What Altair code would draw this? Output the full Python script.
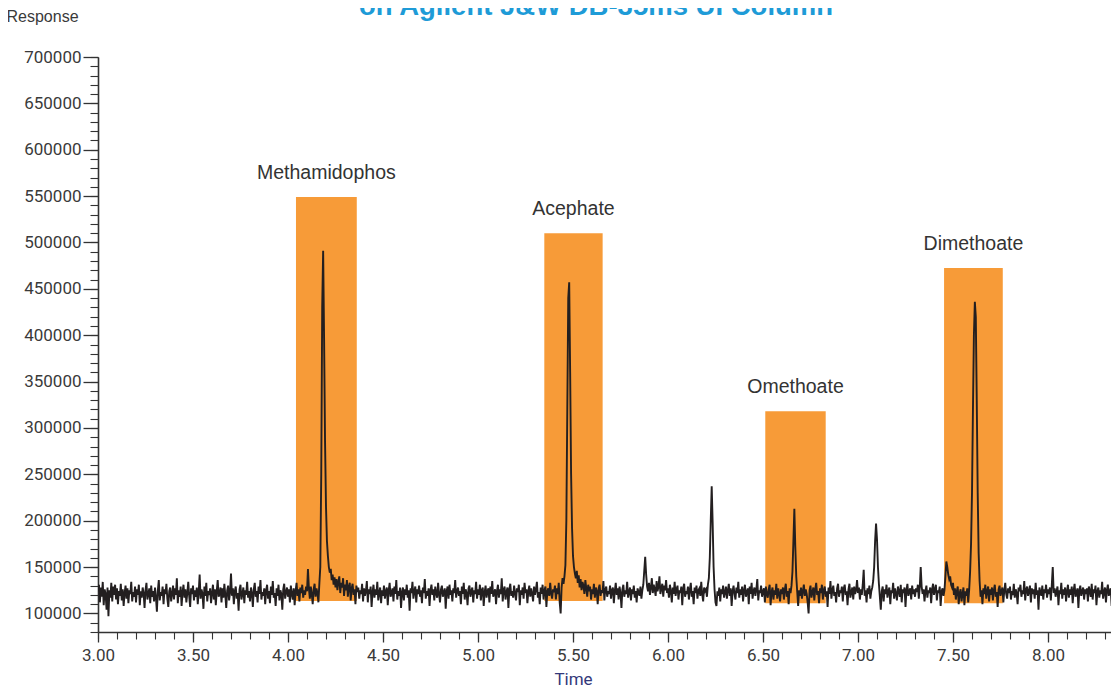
import altair as alt
import numpy as np
import pandas as pd

# ---- chromatogram trace: response (x1000) sampled every 0.005 min, rows of 0.1 min starting at 3.00 ----
response_k_rows = [
    [124, 131, 112, 128, 118, 134, 109, 126, 121, 104, 128, 97, 125, 117, 133, 113, 129, 120, 131, 115],   # 3.0
    [127, 110, 124, 119, 132, 114, 126, 108, 122, 130, 116, 127, 111, 125, 121, 134, 113, 123, 118, 129],  # 3.1
    [112, 126, 120, 131, 109, 124, 117, 128, 122, 106, 125, 133, 115, 121, 127, 111, 130, 118, 124, 113],  # 3.2
    [128, 117, 102, 125, 136, 114, 123, 119, 129, 110, 126, 121, 132, 116, 107, 124, 128, 113, 121, 130],  # 3.3
    [115, 127, 120, 138, 111, 125, 118, 129, 108, 123, 131, 117, 126, 112, 122, 134, 119, 107, 127, 121],  # 3.4
    [130, 114, 125, 118, 128, 110, 123, 142, 116, 126, 121, 105, 129, 119, 133, 113, 124, 120, 127, 111],  # 3.5
    [122, 131, 115, 126, 109, 124, 136, 118, 121, 128, 112, 127, 117, 132, 120, 106, 125, 130, 114, 123],  # 3.6
    [143, 119, 127, 110, 124, 129, 116, 122, 103, 126, 131, 115, 121, 128, 111, 125, 120, 134, 117, 124],  # 3.7
    [113, 128, 122, 107, 126, 133, 118, 124, 112, 129, 121, 136, 115, 123, 119, 127, 110, 125, 131, 116],  # 3.8
    [124, 111, 129, 120, 135, 117, 122, 108, 127, 119, 131, 114, 125, 121, 104, 126, 132, 116, 123, 128],  # 3.9
    [118, 126, 112, 130, 121, 115, 127, 109, 124, 133, 119, 126, 113, 128, 122, 131, 117, 125, 120, 129],  # 4.0
    [124, 148, 127, 116, 129, 121, 110, 126, 132, 118, 127, 122, 112, 132, 150, 250, 430, 491, 395, 285],  # 4.1
    [215, 178, 162, 150, 144, 148, 136, 142, 131, 139, 128, 137, 125, 134, 140, 122, 133, 128, 138, 119],  # 4.2
    [131, 125, 136, 118, 129, 133, 114, 127, 132, 120, 126, 110, 130, 123, 128, 116, 125, 121, 132, 113],  # 4.3
    [127, 119, 124, 135, 112, 126, 121, 129, 107, 123, 131, 117, 126, 120, 134, 114, 122, 128, 111, 125],  # 4.4
    [119, 130, 116, 124, 128, 109, 125, 133, 118, 122, 127, 113, 129, 121, 136, 115, 124, 119, 128, 106],  # 4.5
    [123, 128, 114, 126, 120, 131, 117, 125, 103, 127, 122, 134, 116, 124, 129, 112, 126, 121, 130, 118],  # 4.6
    [125, 111, 128, 122, 137, 116, 124, 119, 127, 108, 125, 131, 120, 126, 114, 129, 122, 117, 133, 121],  # 4.7
    [112, 126, 130, 118, 123, 127, 105, 124, 129, 116, 131, 120, 125, 113, 127, 122, 136, 117, 124, 128],  # 4.8
    [119, 124, 110, 129, 121, 133, 115, 126, 122, 109, 127, 130, 118, 124, 128, 112, 125, 121, 134, 116],  # 4.9
    [126, 120, 131, 114, 125, 128, 108, 123, 130, 117, 124, 127, 112, 129, 121, 135, 118, 122, 126, 110],  # 5.0
    [124, 131, 117, 126, 121, 138, 113, 125, 129, 115, 123, 128, 106, 126, 132, 119, 124, 117, 130, 122],  # 5.1
    [114, 127, 123, 131, 109, 125, 120, 128, 116, 133, 122, 126, 111, 124, 130, 118, 127, 121, 113, 129],  # 5.2
    [120, 126, 134, 117, 123, 110, 128, 121, 131, 115, 125, 129, 107, 124, 127, 119, 133, 122, 116, 126],  # 5.3
    [123, 130, 115, 127, 121, 133, 112, 100, 128, 138, 132, 140, 152, 200, 320, 440, 457, 360, 250, 192],  # 5.4
    [162, 150, 143, 138, 146, 133, 141, 128, 137, 125, 134, 130, 121, 136, 127, 118, 131, 124, 129, 115],  # 5.5
    [126, 121, 132, 117, 128, 124, 110, 127, 131, 119, 125, 122, 135, 114, 126, 129, 118, 124, 121, 130],  # 5.6
    [116, 125, 128, 111, 124, 133, 120, 127, 115, 129, 122, 106, 126, 131, 118, 125, 121, 134, 117, 123],  # 5.7
    [128, 114, 126, 121, 130, 117, 124, 112, 127, 123, 119, 129, 116, 125, 131, 146, 161, 142, 129, 124],  # 5.8
    [133, 120, 128, 138, 122, 131, 126, 119, 135, 124, 129, 140, 121, 127, 132, 118, 130, 125, 136, 122],  # 5.9
    [127, 117, 131, 124, 112, 128, 121, 134, 119, 126, 130, 115, 125, 122, 129, 109, 127, 132, 118, 124],  # 6.0
    [121, 129, 115, 126, 133, 118, 124, 110, 128, 122, 130, 116, 125, 127, 119, 134, 121, 113, 128, 124],  # 6.1
    [126, 118, 131, 138, 160, 200, 237, 198, 150, 126, 112, 108, 124, 119, 128, 113, 126, 121, 130, 117],  # 6.2
    [123, 129, 116, 125, 132, 119, 127, 108, 124, 130, 121, 115, 128, 122, 134, 117, 126, 120, 129, 113],  # 6.3
    [125, 131, 118, 123, 127, 110, 129, 121, 133, 116, 124, 128, 119, 126, 137, 114, 125, 122, 130, 118],  # 6.4
    [124, 127, 112, 129, 121, 117, 126, 131, 109, 123, 128, 115, 125, 120, 132, 116, 127, 122, 113, 126],  # 6.5
    [121, 128, 115, 126, 132, 118, 124, 110, 127, 122, 130, 145, 178, 213, 172, 140, 124, 108, 125, 119],  # 6.6
    [128, 116, 124, 131, 119, 126, 121, 112, 100, 125, 130, 117, 123, 128, 114, 126, 133, 120, 124, 111],  # 6.7
    [127, 122, 131, 115, 125, 129, 118, 124, 107, 128, 121, 135, 116, 125, 130, 119, 123, 112, 127, 132],  # 6.8
    [118, 125, 122, 129, 113, 127, 131, 120, 124, 109, 126, 132, 117, 123, 128, 115, 129, 121, 125, 136],  # 6.9
    [122, 128, 115, 126, 120, 131, 147, 119, 125, 112, 127, 121, 130, 116, 124, 128, 135, 150, 178, 197],  # 7.0
    [180, 150, 132, 118, 104, 124, 129, 113, 126, 121, 131, 117, 124, 128, 110, 125, 122, 133, 116, 127],  # 7.1
    [121, 114, 129, 124, 118, 131, 112, 126, 122, 128, 107, 125, 132, 119, 124, 127, 115, 130, 121, 126],  # 7.2
    [118, 127, 123, 131, 116, 128, 150, 129, 121, 126, 113, 124, 130, 117, 125, 122, 128, 111, 126, 132],  # 7.3
    [120, 126, 131, 114, 125, 122, 129, 108, 124, 127, 119, 125, 140, 156, 150, 142, 137, 140, 131, 128],  # 7.4
    [133, 120, 127, 115, 124, 129, 110, 122, 126, 113, 121, 128, 109, 124, 119, 127, 112, 125, 145, 175],  # 7.5
    [230, 320, 400, 436, 420, 330, 230, 165, 135, 118, 125, 110, 127, 121, 131, 116, 124, 129, 113, 126],  # 7.6
    [120, 128, 114, 125, 131, 118, 123, 107, 126, 130, 119, 124, 128, 112, 125, 133, 121, 116, 127, 122],  # 7.7
    [129, 115, 124, 120, 132, 117, 126, 122, 110, 128, 124, 131, 118, 125, 121, 135, 114, 126, 129, 119],  # 7.8
    [124, 130, 112, 127, 121, 126, 116, 133, 120, 125, 104, 128, 123, 119, 130, 115, 126, 122, 131, 117],  # 7.9
    [126, 121, 128, 114, 131, 150, 122, 127, 118, 124, 129, 109, 125, 121, 133, 116, 126, 120, 128, 113],  # 8.0
    [124, 131, 117, 126, 120, 129, 111, 125, 132, 118, 123, 127, 106, 125, 130, 119, 124, 128, 115, 126],  # 8.1
    [121, 127, 113, 129, 124, 118, 132, 115, 126, 122, 130, 109, 124, 128, 117, 125, 121, 134, 116, 123],  # 8.2
    [128, 112, 125, 131, 119, 124, 127, 108, 126, 121, 129, 115, 124, 130, 118, 125],                      # 8.3
]
sample_step_min = 0.005
trace_start_min = 3.0

# ---- integration windows (orange boxes) ----
compounds = ["Methamidophos", "Acephate", "Omethoate", "Dimethoate"]
window_start = [4.042, 5.349, 6.512, 7.453]
window_end = [4.362, 5.656, 6.830, 7.762]
window_top = [549000, 510000, 318000, 472500]
window_bottom = [113300, 113300, 111100, 111100]

# ---- axis ticks ----
x_major = [3.0, 3.5, 4.0, 4.5, 5.0, 5.5, 6.0, 6.5, 7.0, 7.5, 8.0]
x_minor = [round(3.0 + 0.1 * k, 1) for k in range(54)]
y_major = [100000, 150000, 200000, 250000, 300000, 350000, 400000, 450000,
           500000, 550000, 600000, 650000, 700000]
y_minor = [80000 + 10000 * k for k in range(63)]

title_text = "on Agilent J&W DB-35ms UI Column"

# ---- build tables ----
resp = [v * 1000 for row in response_k_rows for v in row]
times = [round(trace_start_min + sample_step_min * i, 3) for i in range(len(resp))]
trace = pd.DataFrame({"time": times, "response": resp})
windows = pd.DataFrame({"compound": compounds, "start": window_start, "end": window_end,
                        "top": window_top, "bottom": window_bottom})

PX_PER_MIN = 190
PLOT_W = 1013
PLOT_H = 575
X_MAX = 3.0 + PLOT_W / PX_PER_MIN

xs = alt.Scale(domain=[3.0, X_MAX], nice=False, zero=False)
ys = alt.Scale(domain=[80000, 700000], nice=False, zero=False)

AX_COLOR = "#333333"
LBL_COLOR = "#3a3a3a"
TICK_FONT = "Roboto"

x_major_axis = alt.Axis(orient="bottom", values=x_major, format=".2f", grid=False,
                        tickSize=10, tickWidth=1.3, tickColor=AX_COLOR,
                        domainColor=AX_COLOR, domainWidth=1.6,
                        labelFont=TICK_FONT, labelFontSize=17, labelColor=LBL_COLOR,
                        labelPadding=5, labelFlush=False,
                        title="Time", titleFont=TICK_FONT, titleFontSize=17,
                        titleFontWeight="normal", titleColor="#33397a",
                        titleX=475, titleY=52, titleAnchor="middle",
                        titleBaseline="alphabetic", titleAlign="center")
x_minor_axis = alt.Axis(orient="bottom", values=x_minor, labels=False, grid=False,
                        domain=False, tickSize=7, tickWidth=1.1, tickColor=AX_COLOR,
                        title="")
y_major_axis = alt.Axis(orient="left", values=y_major, format="d", grid=False,
                        tickSize=15, tickWidth=1.3, tickColor=AX_COLOR,
                        domainColor=AX_COLOR, domainWidth=1.6,
                        labelFont=TICK_FONT, labelFontSize=17, labelColor=LBL_COLOR,
                        labelPadding=2, labelFlush=False,
                        title="Response", titleFont="Liberation Sans", titleFontSize=16,
                        titleFontWeight="normal", titleColor="#3a3a3a", titleAngle=0,
                        titleAlign="left", titleBaseline="alphabetic",
                        titleX=-92, titleY=-36)
y_minor_axis = alt.Axis(orient="left", values=y_minor, labels=False, grid=False,
                        domain=False, tickSize=8, tickWidth=1.1, tickColor=AX_COLOR,
                        title="")

boxes = alt.Chart(windows).mark_rect(color="#F79B38", opacity=1).encode(
    x=alt.X("start:Q", scale=xs, axis=x_major_axis),
    x2="end:Q",
    y=alt.Y("top:Q", scale=ys, axis=y_major_axis),
    y2="bottom:Q",
)

line = alt.Chart(trace).mark_line(color="#231F20", strokeWidth=1.9, clip=True).encode(
    x=alt.X("time:Q", scale=xs, axis=x_minor_axis),
    y=alt.Y("response:Q", scale=ys, axis=y_minor_axis),
)

labels = alt.Chart(windows).transform_calculate(
    mid="(datum.start + datum.end) / 2"
).mark_text(font="Liberation Sans", fontSize=19.5, color="#333333",
            baseline="middle", align="center", dy=-24).encode(
    x=alt.X("mid:Q", scale=xs, axis=None),
    y=alt.Y("top:Q", scale=ys, axis=None),
    text="compound:N",
)

title = alt.Chart(pd.DataFrame({"t": [title_text]})).mark_text(
    font="Liberation Sans", fontSize=27.5, fontWeight="bold", color="#1E9BD7",
    align="center", baseline="alphabetic"
).encode(x=alt.value(498), y=alt.value(-42), text="t:N")

chart = alt.layer(boxes, line, labels, title).resolve_axis(
    x="independent", y="independent"
).properties(
    width=PLOT_W, height=PLOT_H,
    autosize=alt.AutoSizeParams(type="none"),
    padding={"left": 90, "top": 49, "right": 0, "bottom": 56},
).configure_view(strokeWidth=0)

chart.save("out.html", embed_options={"renderer": "svg", "actions": False})
